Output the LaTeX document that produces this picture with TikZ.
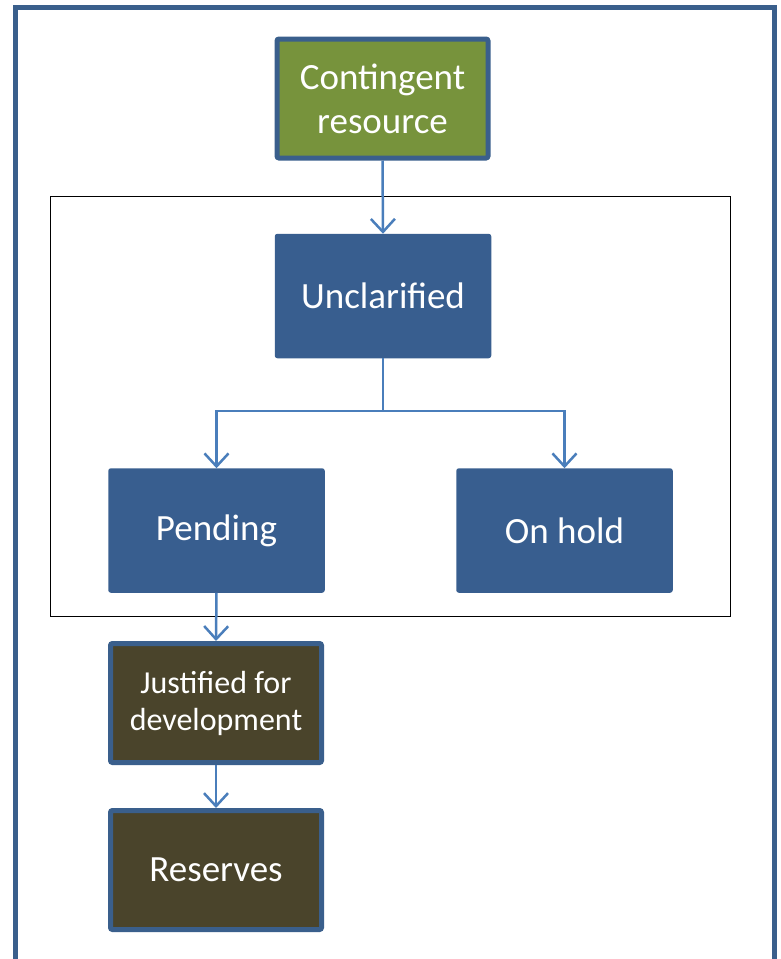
\documentclass[tikz,border=0pt]{standalone}
\usepackage{fontspec}
\setmainfont{Carlito}
\usetikzlibrary{arrows.meta}
\definecolor{frameblue}{HTML}{3A5F8C}
\definecolor{boxblue}{HTML}{385E8F}
\definecolor{olive}{HTML}{77933C}
\definecolor{brown}{HTML}{4A442B}
\definecolor{arrowblue}{HTML}{4A7EBB}
\tikzset{
  thickbox/.style={draw=frameblue, line width=5pt, rounded corners=2pt, text=white, align=center, inner sep=0pt,
    minimum width=211pt, minimum height=119pt},
  bluebox/.style={draw=boxblue, fill=boxblue, line width=1.5pt, rounded corners=2pt, text=white, align=center, inner sep=0pt,
    minimum width=215pt, minimum height=123pt, font=\fontsize{37}{44}\selectfont},
  conn/.style={draw=arrowblue, line width=2.5pt, -{Straight Barb[length=13pt,width=24pt,line width=2.5pt]}},
}
\begin{document}
\begin{tikzpicture}[x=1pt,y=-1pt]
\clip (0,0) rectangle (780,959);
\fill[white] (0,0) rectangle (780,959);
% outer frame
\draw[frameblue, line width=5pt] (15.5,1000) -- (15.5,7.5) -- (774.5,7.5) -- (774.5,1000);
% inner group frame
\draw[black, line width=1pt] (50.5,196.5) rectangle (730.5,616.5);
% nodes
\node[thickbox, fill=olive, font=\fontsize{37}{44}\selectfont] (cont) at (382.5,98.5) {Contingent\\resource};
\node[bluebox] (unc) at (383,296) {Unclarified};
\node[bluebox] (pend) at (216.5,530.5) {Pending};
\node[bluebox] (hold) at (564.5,530.5) {On hold};
\node[thickbox, fill=brown, font=\fontsize{32}{37}\selectfont] (just) at (216,703) {Justified for\\development};
\node[thickbox, fill=brown, font=\fontsize{37}{44}\selectfont] (res) at (216,870) {Reserves};
% connectors
\coordinate (split) at (383,411);
\draw[conn] (cont.south) -- (unc.north);
\draw[conn] (unc.south) -- (split) -| (pend.north);
\draw[conn] (split) -| (hold.north);
\draw[conn] (pend.south) -- (just.north);
\draw[conn] (just.south) -- (res.north);
\end{tikzpicture}
\end{document}
